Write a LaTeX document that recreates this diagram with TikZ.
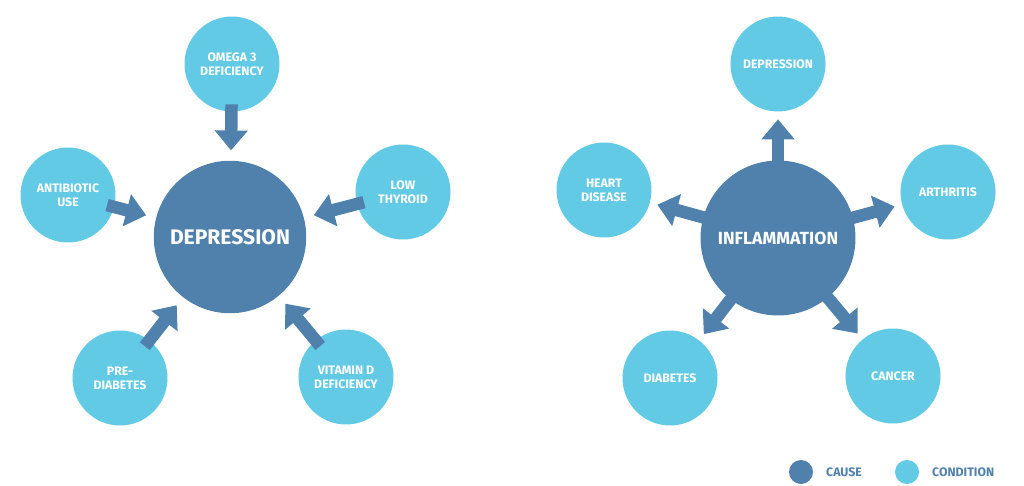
\documentclass[tikz,border=0pt]{standalone}
\usepackage{fontspec}
\setmainfont{Fira Sans}
\usetikzlibrary{arrows.meta}
\definecolor{causeblue}{HTML}{5080AC}
\definecolor{condblue}{HTML}{62CAE4}
\tikzset{
  cause/.style={circle, fill=causeblue, minimum size=3.05cm, text=white, font=\bfseries\large},
  condition/.style={circle, fill=condblue, minimum size=1.9cm, text=white, font=\bfseries\scriptsize, align=center, inner sep=0pt},
  link/.style={causeblue, line width=0.25cm, -{Triangle[width=0.64cm,length=0.4cm]}},
  legend/.style={text=causeblue, font=\bfseries\scriptsize, anchor=west}
}
\begin{document}
\begin{tikzpicture}[x=0.02cm,y=-0.02cm]
\useasboundingbox (0,0) rectangle (1024,486);
% Left: what leads to depression
\node[cause] (dep) at (230,237) {DEPRESSION};
\node[condition] (omega) at (232,64) {OMEGA 3\\DEFICIENCY};
\node[condition] (anti) at (68,195) {ANTIBIOTIC\\USE};
\node[condition] (thyroid) at (403,192) {LOW\\THYROID};
\node[condition] (prediab) at (120,378) {PRE-\\DIABETES};
\node[condition] (vitd) at (346,377) {VITAMIN D\\DEFICIENCY};
\foreach \s in {omega,anti,thyroid,prediab,vitd}
  \draw[link, shorten <=-0.15cm, shorten >=0.2cm] (\s) -- (dep);
% Right: what inflammation leads to
\node[condition] (rdep) at (778,64) {DEPRESSION};
\node[condition] (heart) at (604,190) {HEART\\DISEASE};
\node[condition] (arth) at (948,192) {ARTHRITIS};
\node[condition] (diab) at (670,378) {DIABETES};
\node[condition] (cancer) at (893,376) {CANCER};
\node[cause, minimum size=3.1cm, font=\bfseries\normalsize] (infl) at (778,238) {INFLAMMATION};
\foreach \s in {rdep,heart,arth,diab,cancer}
  \draw[link, shorten <=-0.3cm, shorten >=0.15cm] (infl) -- (\s);
% Legend
\node[circle, fill=causeblue, minimum size=0.48cm] (lcause) at (801,472) {};
\node[legend] (tcause) at (820,472) {CAUSE};
\node[circle, fill=condblue, minimum size=0.48cm] (lcond) at (907,472) {};
\node[legend] (tcond) at (926,472) {CONDITION};
\end{tikzpicture}
\end{document}
